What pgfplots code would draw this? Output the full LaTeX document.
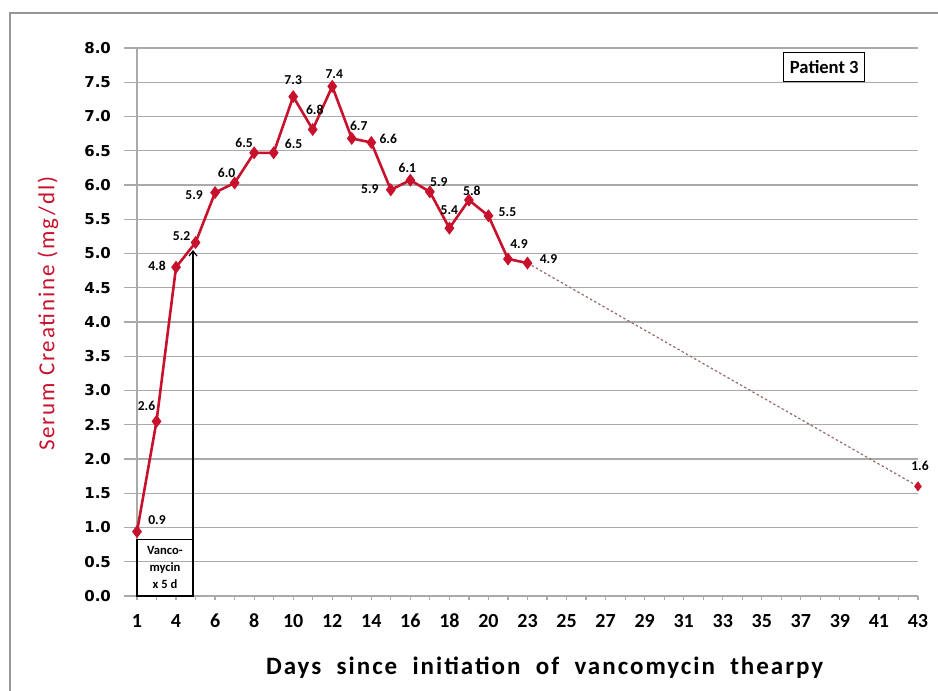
\documentclass[border=0pt]{standalone}
\usepackage{fontspec}
\setmainfont{Carlito}
\newfontfamily\dejavu{DejaVu Sans}
\newfontfamily\spaced[LetterSpace=8]{Carlito}
\usepackage{pgfplots}
\pgfplotsset{compat=1.18}
\usepackage{pgfplotstable}
\usetikzlibrary{arrows.meta}

\definecolor{serumred}{RGB}{200,18,45}
\definecolor{gridgray}{RGB}{170,170,170}
\definecolor{framegray}{RGB}{150,150,150}
\definecolor{trendgray}{RGB}{150,105,105}

% x = category index (0 = day 1), y = creatinine, lab = label, dx/dy = label offset (pt)
\pgfplotstableread{
x  y     lab  dx    dy
0  0.94  0.9  10    6
1  2.55  2.6  -5    7.5
2  4.80  4.8  -9.5  0.5
3  5.16  5.2  -7    3
4  5.89  5.9  -10.5 -1.5
5  6.03  6.0  -4    5
6  6.47  6.5  -5    5
7  6.47  6.5  10    4.5
8  7.29  7.3  0     8.5
9  6.81  6.8  1     10
10 7.44  7.4  1     6
11 6.68  6.7  3.5   6.5
12 6.62  6.6  8.5   2
13 5.93  5.9  -10.5 0.5
14 6.07  6.1  -1.5  6
15 5.90  5.9  4.5   5
16 5.37  5.4  0     9
17 5.78  5.8  1.5   4.5
18 5.55  5.5  9.5   2
19 4.92  4.9  5.5   7.5
20 4.86  4.9  10.5  2
}\serum

\pgfplotstableread{
x  y     lab  dx  dy
40 1.60  1.6  1   10
}\lastday

\pgfplotsset{
    labelled/.style={
        visualization depends on={\thisrow{dx}\as\myDx},
        visualization depends on={\thisrow{dy}\as\myDy},
        point meta=explicit symbolic,
        nodes near coords,
        every node near coord/.append style={anchor=center,
            xshift=\myDx pt, yshift=\myDy pt, inner sep=0pt,
            text=black, font=\bfseries\fontsize{6.8}{8}\selectfont},
    },
}

\begin{document}
\begin{tikzpicture}
\useasboundingbox (-68.5pt,-47.5pt) rectangle (400.5pt,298pt);
\begin{axis}[
    at={(0,0)}, anchor=south west,
    scale only axis,
    width=390.5pt, height=274pt,
    xmin=0, xmax=40, ymin=0, ymax=8,
    clip=false,
    axis x line=bottom, axis y line=left,
    axis line style={-, draw=gridgray, line width=0.7pt},
    tick align=outside,
    major tick length=6.5pt,
    minor tick length=2pt,
    tick style={draw=gridgray, line width=0.6pt},
    xtick={0,2,...,40},
    xticklabels={1,4,6,8,10,12,14,16,18,20,23,25,27,29,31,33,35,37,39,41,43},
    major x tick style={draw=none},
    minor xtick={0,1,...,40},
    xticklabel style={font=\bfseries\fontsize{10}{12}\selectfont, yshift=1pt},
    ytick={0,0.5,...,8},
    ymajorgrids,
    major grid style={draw=gridgray, line width=0.7pt},
    /pgf/number format/assume math mode=true,
    yticklabel style={font=\dejavu\bfseries\fontsize{7.5}{9}\selectfont, xshift=-3pt,
        /pgf/number format/.cd, fixed, fixed zerofill, precision=1},
    ylabel={Serum Creatinine (mg/dl)},
    ylabel style={at={(axis description cs:-0.114,0.515)}, anchor=center,
        font=\spaced\fontsize{11.5}{13}\selectfont, color=serumred},
    xlabel={Days\ \ since\ \ initiation\ \ of\ \ vancomycin\ \ thearpy},
    xlabel style={at={(axis description cs:0.522,-0.131)}, anchor=center,
        font=\spaced\bfseries\fontsize{12.5}{14}\selectfont},
]
\addplot[trendgray, line width=0.6pt, dash pattern=on 1.2pt off 1.2pt, no marks]
    coordinates {(20,4.86) (40,1.60)};
\addplot[serumred, line width=1.3pt, mark=diamond*, mark size=2.2pt,
    mark options={solid, fill=serumred}, labelled]
    table[x=x, y=y, meta=lab] {\serum};
\addplot[serumred, only marks, mark=diamond*, mark size=2.2pt,
    mark options={fill=serumred}, labelled]
    table[x=x, y=y, meta=lab] {\lastday};

% Vancomycin course box and arrow
\draw[black, line width=0.6pt] (axis cs:0,0) rectangle (axis cs:2.87,0.82);
\node[align=center, font=\bfseries\fontsize{6.3}{8.5}\selectfont, inner sep=0pt]
    at (axis cs:1.435,0.41) {Vanco-\\mycin\\x 5 d};
\draw[black, line width=0.6pt, -{Straight Barb[length=2.5pt, width=4pt]}]
    (axis cs:2.87,0.82) -- (axis cs:2.87,5.05);

\node[draw=black, line width=0.5pt, fill=white, inner xsep=3pt,
    minimum height=14.5pt, font=\bfseries\fontsize{9.3}{11}\selectfont]
    at (axis description cs:0.88,0.965) {Patient 3};
\end{axis}
\draw[framegray, line width=0.8pt] (-63.5pt,-60pt) -- (-63.5pt,291.5pt) -- (410pt,291.5pt);
\end{tikzpicture}
\end{document}
